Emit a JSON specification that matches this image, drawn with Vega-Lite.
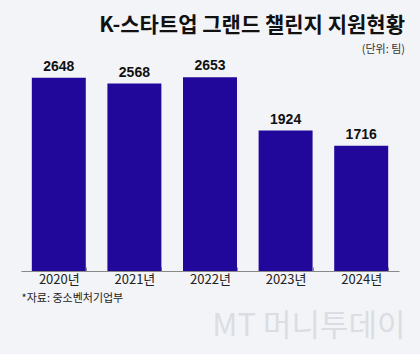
{
  "$schema": "https://vega.github.io/schema/vega-lite/v6.json",
  "width": 378,
  "height": 219,
  "autosize": {"type": "none"},
  "padding": {"left": 21, "right": 21, "top": 52, "bottom": 83},
  "background": "#f3f4f7",
  "config": {"view": {"stroke": null}, "font": "Noto Sans CJK KR"},
  "title": {
    "text": "K-스타트업 그랜드 챌린지 지원현황",
    "subtitle": "(단위: 팀)",
    "anchor": "end",
    "fontSize": 21,
    "fontWeight": "bold",
    "color": "#111111",
    "font": "Noto Sans CJK KR",
    "subtitleFont": "Noto Sans CJK KR",
    "subtitleFontSize": 11,
    "subtitleColor": "#333333",
    "subtitlePadding": 8,
    "offset": -3
  },
  "data": {
    "values": [
      {"year": "2020년", "value": 2648},
      {"year": "2021년", "value": 2568},
      {"year": "2022년", "value": 2653},
      {"year": "2023년", "value": 1924},
      {"year": "2024년", "value": 1716}
    ]
  },
  "encoding": {
    "x": {
      "field": "year",
      "type": "ordinal",
      "sort": null,
      "scale": {"paddingInner": 0.286, "paddingOuter": 0.143},
      "axis": {
        "title": "*자료: 중소벤처기업부",
        "titleAnchor": "start",
        "titleAlign": "left",
        "titleFontSize": 11,
        "titleFontWeight": "normal",
        "titleColor": "#222222",
        "titlePadding": 6,
        "labelAngle": 0,
        "labelFontSize": 13,
        "labelColor": "#222222",
        "labelPadding": 6,
        "tickBand": "extent",
        "tickSize": -4,
        "tickColor": "#888888",
        "domainColor": "#888888",
        "domainWidth": 1
      }
    },
    "y": {
      "field": "value",
      "type": "quantitative",
      "scale": {"domain": [0, 3000], "nice": false},
      "axis": {
        "orient": "right",
        "labels": false,
        "ticks": false,
        "domain": false,
        "grid": false,
        "title": "MT 머니투데이",
        "titleAngle": 0,
        "titleX": 6,
        "titleY": 274,
        "titleAlign": "right",
        "titleBaseline": "middle",
        "titleFontSize": 31,
        "titleFontWeight": "normal",
        "titleColor": "#dcdde2"
      }
    }
  },
  "layer": [
    {"mark": {"type": "bar", "color": "#21089b"}},
    {
      "mark": {"type": "text", "baseline": "bottom", "dy": -4, "fontSize": 14, "fontWeight": "bold", "font": "Liberation Sans", "color": "#111111"},
      "encoding": {"text": {"field": "value", "type": "quantitative", "format": "d"}}
    }
  ]
}
